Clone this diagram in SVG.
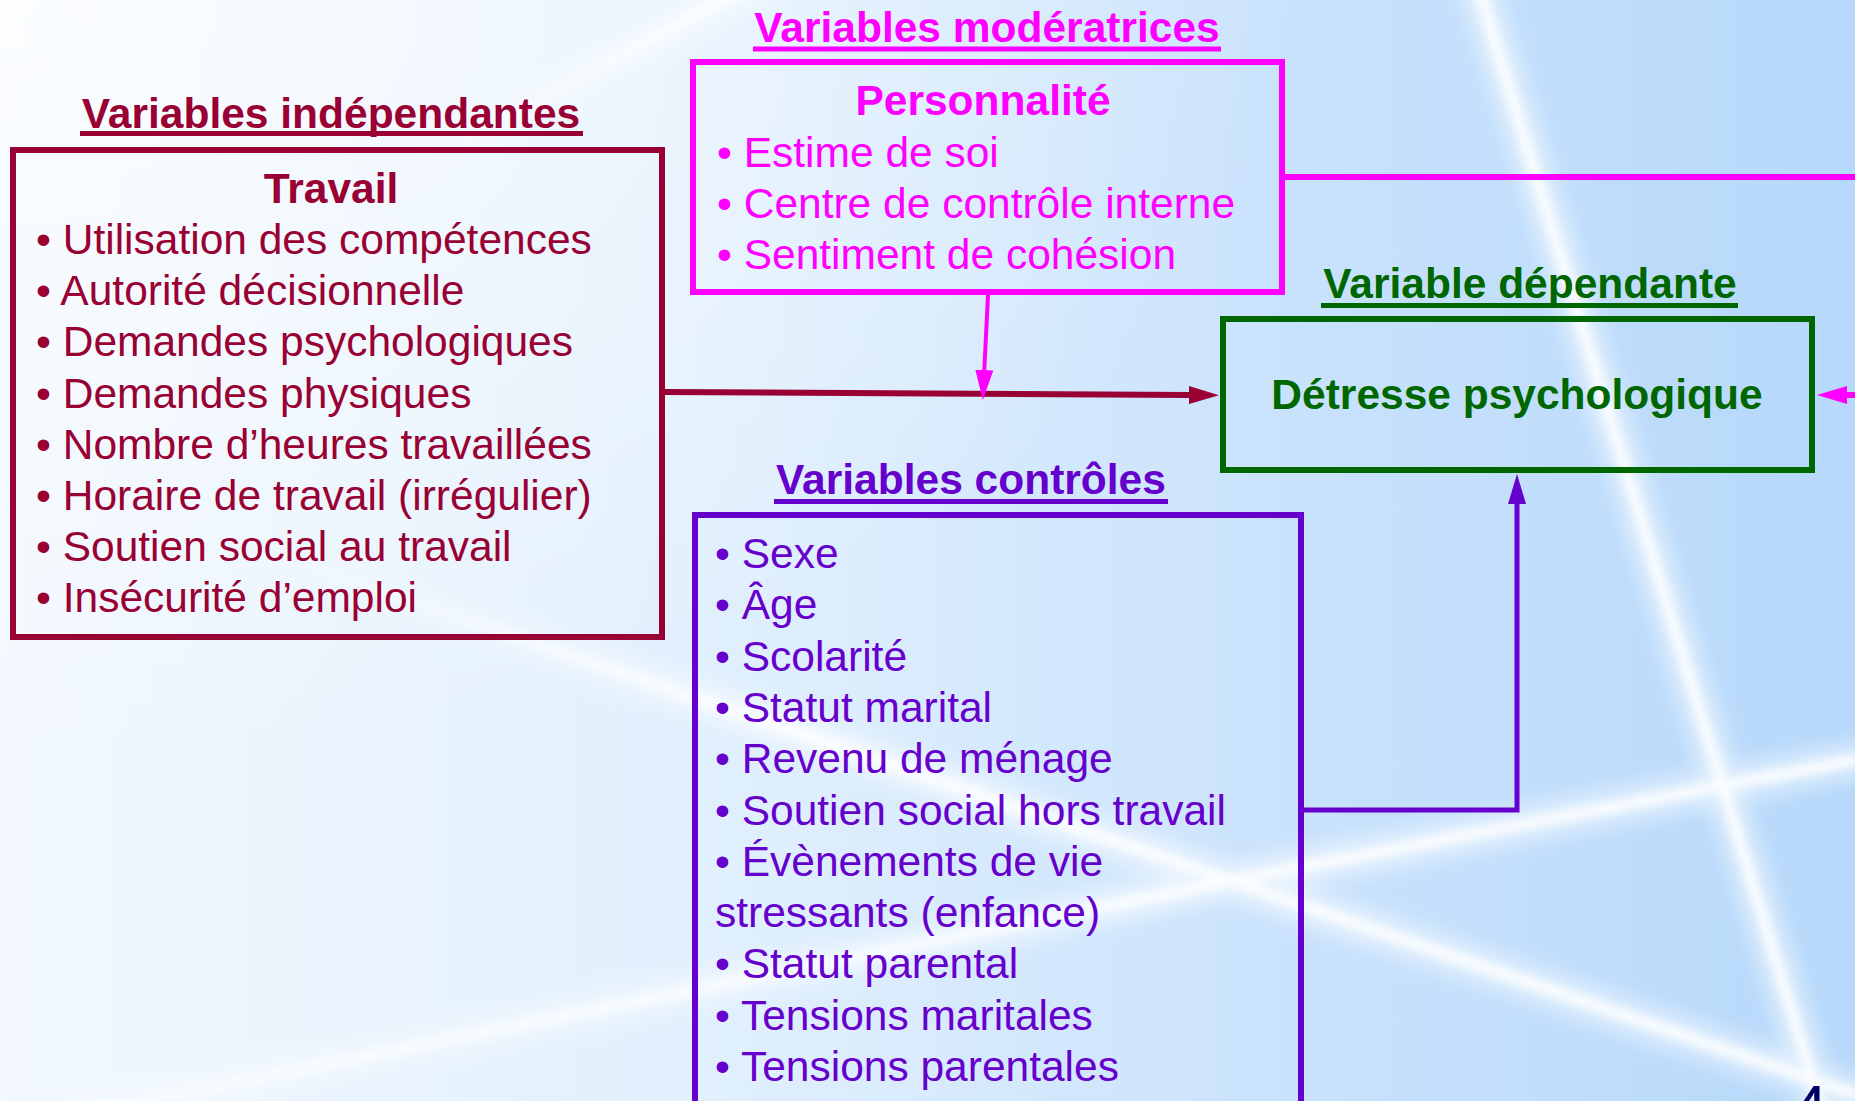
<svg xmlns="http://www.w3.org/2000/svg" width="1855" height="1101" viewBox="0 0 1855 1101">
<defs>
  <linearGradient id="bg" x1="0" y1="0" x2="1" y2="0">
    <stop offset="0" stop-color="#F2F8FE"/>
    <stop offset="0.4" stop-color="#E0EFFD"/>
    <stop offset="0.7" stop-color="#C9E2FC"/>
    <stop offset="1" stop-color="#B6D8FA"/>
  </linearGradient>
  <radialGradient id="glowTL" cx="0" cy="0" r="0.7">
    <stop offset="0" stop-color="#FFFFFF" stop-opacity="0.7"/>
    <stop offset="1" stop-color="#FFFFFF" stop-opacity="0"/>
  </radialGradient>
  <linearGradient id="fadeL1" gradientUnits="userSpaceOnUse" x1="250" y1="546" x2="760" y2="720">
    <stop offset="0" stop-color="#FFFFFF" stop-opacity="0"/>
    <stop offset="1" stop-color="#FFFFFF" stop-opacity="1"/>
  </linearGradient>
  <linearGradient id="fadeL2" gradientUnits="userSpaceOnUse" x1="1231" y1="881" x2="0" y2="1130">
    <stop offset="0" stop-color="#FFFFFF" stop-opacity="1"/>
    <stop offset="1" stop-color="#FFFFFF" stop-opacity="0.45"/>
  </linearGradient>
  <linearGradient id="fadeL5" gradientUnits="userSpaceOnUse" x1="760" y1="-20" x2="400" y2="175">
    <stop offset="0" stop-color="#FFFFFF" stop-opacity="1"/>
    <stop offset="1" stop-color="#FFFFFF" stop-opacity="0"/>
  </linearGradient>
  <filter id="blurWide" filterUnits="userSpaceOnUse" x="0" y="0" width="1855" height="1101">
    <feGaussianBlur stdDeviation="10"/>
  </filter>
  <filter id="blurCore" filterUnits="userSpaceOnUse" x="0" y="0" width="1855" height="1101">
    <feGaussianBlur stdDeviation="4"/>
  </filter>
  <marker id="arrRed" viewBox="0 0 30 18" refX="0" refY="9" markerWidth="30" markerHeight="18" orient="auto" markerUnits="userSpaceOnUse">
    <path d="M0,0 L30,9 L0,18 Z" fill="#990033"/>
  </marker>
  <marker id="arrMag" viewBox="0 0 30 18" refX="0" refY="9" markerWidth="30" markerHeight="18" orient="auto" markerUnits="userSpaceOnUse">
    <path d="M0,0 L30,9 L0,18 Z" fill="#FF00FF"/>
  </marker>
  <marker id="arrPur" viewBox="0 0 30 18" refX="0" refY="9" markerWidth="30" markerHeight="18" orient="auto" markerUnits="userSpaceOnUse">
    <path d="M0,0 L30,9 L0,18 Z" fill="#6600CC"/>
  </marker>
</defs>
<style>
  text { font-family: "Liberation Sans", Arial, sans-serif; font-size: 42.5px; }
  .b { font-weight: bold; }
  .mid { text-anchor: middle; }
  .red { fill: #990033; }
  .mag { fill: #FF00FF; }
  .grn { fill: #006600; }
  .pur { fill: #6600CC; }
  .box { fill: none; stroke-width: 6; }
  .conn { fill: none; }
</style>

<g id="background">
  <rect x="0" y="0" width="1855" height="1101" fill="url(#bg)"/>
  <rect x="0" y="0" width="1855" height="1101" fill="url(#glowTL)"/>
  <g fill="none" stroke-linecap="round">
    <g filter="url(#blurWide)" stroke-width="34" opacity="0.55">
      <path d="M1479,-10 L1822,1111" stroke="#FFFFFF"/>
      <path d="M250,546 L1855,1094" stroke="url(#fadeL1)"/>
      <path d="M1231,881 L0,1130" stroke="url(#fadeL2)"/>
      <path d="M1231,881 L1855,760" stroke="#FFFFFF"/>
      <path d="M760,-20 L400,175" stroke="url(#fadeL5)"/>
    </g>
    <g filter="url(#blurCore)" stroke-width="10" opacity="0.9">
      <path d="M1479,-10 L1822,1111" stroke="#FFFFFF"/>
      <path d="M250,546 L1855,1094" stroke="url(#fadeL1)"/>
      <path d="M1231,881 L0,1130" stroke="url(#fadeL2)"/>
      <path d="M1231,881 L1855,760" stroke="#FFFFFF"/>
      <path d="M760,-20 L400,175" stroke="url(#fadeL5)"/>
    </g>
  </g>
</g>

<g id="connectors">
  <path class="conn" d="M665,392 L1189,395" stroke="#990033" stroke-width="6" marker-end="url(#arrRed)"/>
  <path class="conn" d="M988,295 L984.3,370" stroke="#FF00FF" stroke-width="4" marker-end="url(#arrMag)"/>
  <path class="conn" d="M1285,177 H1880 V395 H1847" stroke="#FF00FF" stroke-width="6" marker-end="url(#arrMag)"/>
  <path class="conn" d="M1304,810 H1517 V504" stroke="#6600CC" stroke-width="5" marker-end="url(#arrPur)"/>
</g>

<g id="node-independantes">
  <text class="b mid red" x="331" y="128">Variables indépendantes</text>
  <rect class="red" x="80" y="131" width="503" height="5"/>
  <rect class="box" x="13" y="150" width="649" height="487" stroke="#990033"/>
  <text class="b mid red" x="331" y="203">Travail</text>
  <text class="red" x="36" y="254">• Utilisation des compétences</text>
  <text class="red" x="36" y="305.2">• Autorité décisionnelle</text>
  <text class="red" x="36" y="356.4">• Demandes psychologiques</text>
  <text class="red" x="36" y="407.6">• Demandes physiques</text>
  <text class="red" x="36" y="458.8">• Nombre d’heures travaillées</text>
  <text class="red" x="36" y="510">• Horaire de travail (irrégulier)</text>
  <text class="red" x="36" y="561.2">• Soutien social au travail</text>
  <text class="red" x="36" y="612.4">• Insécurité d’emploi</text>
</g>

<g id="node-moderatrices">
  <text class="b mid mag" x="987" y="42">Variables modératrices</text>
  <rect class="mag" x="753" y="46.5" width="468" height="5"/>
  <rect class="box" x="693" y="62" width="589" height="230" stroke="#FF00FF"/>
  <text class="b mid mag" x="983" y="115">Personnalité</text>
  <text class="mag" x="717" y="166.7">• Estime de soi</text>
  <text class="mag" x="717" y="218">• Centre de contrôle interne</text>
  <text class="mag" x="717" y="269.3">• Sentiment de cohésion</text>
</g>

<g id="node-dependante">
  <text class="b mid grn" x="1530" y="298">Variable dépendante</text>
  <rect class="grn" x="1321" y="303" width="417" height="5"/>
  <rect class="box" x="1223" y="319" width="589" height="151" stroke="#006600"/>
  <text class="b mid grn" x="1517" y="409">Détresse psychologique</text>
</g>

<g id="node-controles">
  <text class="b mid pur" x="971" y="494">Variables contrôles</text>
  <rect class="pur" x="774" y="499" width="394" height="5"/>
  <rect class="box" x="695" y="515" width="606" height="620" stroke="#6600CC"/>
  <text class="pur" x="715" y="568">• Sexe</text>
  <text class="pur" x="715" y="619.3">• Âge</text>
  <text class="pur" x="715" y="670.6">• Scolarité</text>
  <text class="pur" x="715" y="721.9">• Statut marital</text>
  <text class="pur" x="715" y="773.2">• Revenu de ménage</text>
  <text class="pur" x="715" y="824.5">• Soutien social hors travail</text>
  <text class="pur" x="715" y="875.8">• Évènements de vie</text>
  <text class="pur" x="715" y="927.1">stressants (enfance)</text>
  <text class="pur" x="715" y="978.4">• Statut parental</text>
  <text class="pur" x="715" y="1029.7">• Tensions maritales</text>
  <text class="pur" x="715" y="1081">• Tensions parentales</text>
</g>

<g id="page-number">
  <text x="1792" y="1131" style="font-size:64px" fill="#000066">4</text>
</g>
</svg>
